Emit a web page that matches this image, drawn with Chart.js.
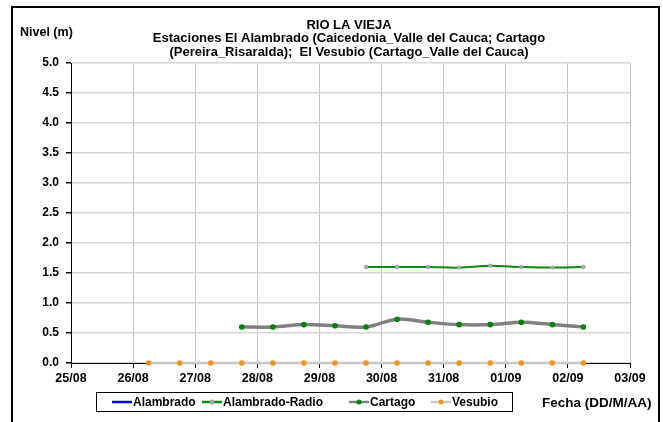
<!DOCTYPE html>
<html>
<head>
<meta charset="utf-8">
<script src="https://cdn.jsdelivr.net/npm/chart.js@4/dist/chart.umd.min.js"></script>
<style>
  html, body { margin: 0; padding: 0; background: #fff; }
  #wrap { width: 663px; height: 422px; }
</style>
</head>
<body>
<div id="wrap"><canvas id="nivelChart" width="663" height="422"></canvas></div>
<script>
// Datos
const dias = ['25/08', '26/08', '27/08', '28/08', '29/08', '30/08', '31/08', '01/09', '02/09', '03/09'];
const fechas = [
    '26/08 06:00', '26/08 18:00', '27/08 06:00', '27/08 18:00', '28/08 06:00',
    '28/08 18:00', '29/08 06:00', '29/08 18:00', '30/08 06:00', '30/08 18:00',
    '31/08 06:00', '31/08 18:00', '01/09 06:00', '01/09 18:00', '02/09 06:00'
];
const alambrado = [];
const alambradoRadio = [null, null, null, null, null, null, null, 1.60, 1.60, 1.60, 1.59, 1.62, 1.60, 1.59, 1.60];
const cartago = [null, null, null, 0.60, 0.60, 0.64, 0.62, 0.60, 0.73, 0.68, 0.64, 0.64, 0.68, 0.64, 0.60];
const vesubio = [0, 0, 0, 0, 0, 0, 0, 0, 0, 0, 0, 0, 0, 0, 0];
const yTicks = ['0.0', '0.5', '1.0', '1.5', '2.0', '2.5', '3.0', '3.5', '4.0', '4.5', '5.0'];

const FONT = 'Liberation Sans, Arial, sans-serif';

// Fecha 'DD/MM HH:MM' -> días desde 25/08
function diaDesdeInicio(f) {
    const [fecha, hora] = f.split(' ');
    const [d, m] = fecha.split('/').map(Number);
    const h = hora ? Number(hora.split(':')[0]) : 0;
    const base = m === 8 ? d - 25 : d + 31 - 25;
    return base + h / 24;
}

function serie(valores) {
    return valores
        .map((v, i) => (v === null ? null : { x: diaDesdeInicio(fechas[i]), y: v }))
        .filter(p => p !== null);
}

const datasets = [
    {
        label: 'Alambrado',
        data: serie(alambrado),
        borderColor: '#0000ff',
        backgroundColor: '#0000ff',
        borderWidth: 2.5,
        pointRadius: 0,
        legendPoint: null
    },
    {
        label: 'Alambrado-Radio',
        data: serie(alambradoRadio),
        borderColor: '#0a8a0a',
        borderWidth: 2,
        pointRadius: 2.2,
        pointBorderWidth: 0,
        pointBackgroundColor: '#a6a6a6',
        tension: 0.35,
        legendPoint: '#a6a6a6'
    },
    {
        label: 'Cartago',
        data: serie(cartago),
        borderColor: '#808080',
        borderWidth: 3.5,
        pointRadius: 2.8,
        pointBorderWidth: 0,
        pointBackgroundColor: '#008000',
        tension: 0.35,
        legendPoint: '#008000'
    },
    {
        label: 'Vesubio',
        data: serie(vesubio),
        borderColor: '#c8c8c8',
        borderWidth: 2.5,
        pointRadius: 2.8,
        pointBorderWidth: 0,
        pointBackgroundColor: '#f7931e',
        tension: 0.35,
        legendPoint: '#f7931e'
    }
];

// Títulos, leyenda y marco dibujados a mano
const decoracion = {
    id: 'decoracion',
    afterDraw(chart) {
        const ctx = chart.ctx;
        ctx.save();
        // marco exterior
        ctx.strokeStyle = '#000';
        ctx.lineWidth = 2;
        ctx.strokeRect(12, 7, 647, 430);

        ctx.fillStyle = '#000';
        ctx.font = 'bold 13px ' + FONT;
        ctx.textAlign = 'center';
        ctx.textBaseline = 'middle';
        ctx.fillText('RIO LA VIEJA', 349, 25);
        ctx.fillText('Estaciones El Alambrado (Caicedonia_Valle del Cauca; Cartago', 349, 38.5);
        ctx.fillText('(Pereira_Risaralda);  El Vesubio (Cartago_Valle del Cauca)', 349, 52);

        ctx.textAlign = 'left';
        ctx.font = 'bold 12.5px ' + FONT;
        ctx.fillText('Nivel (m)', 20, 33);
        ctx.font = 'bold 13.5px ' + FONT;
        ctx.fillText('Fecha (DD/M/AA)', 542, 403);

        // leyenda
        ctx.font = 'bold 12px ' + FONT;
        ctx.lineWidth = 1;
        ctx.strokeRect(96.5, 392.5, 416, 19);
        const posiciones = [112, 202, 349, 431];
        chart.data.datasets.forEach((ds, i) => {
            const x = posiciones[i];
            const y = 402;
            ctx.strokeStyle = ds.borderColor;
            ctx.lineWidth = 2.5;
            ctx.beginPath();
            ctx.moveTo(x, y);
            ctx.lineTo(x + 20, y);
            ctx.stroke();
            if (ds.legendPoint) {
                ctx.fillStyle = ds.legendPoint;
                ctx.beginPath();
                ctx.arc(x + 10, y, 2.5, 0, Math.PI * 2);
                ctx.fill();
            }
            ctx.fillStyle = '#000';
            ctx.textAlign = 'left';
            ctx.fillText(ds.label, x + 21, y + 0.5);
        });
        ctx.restore();
    }
};

new Chart(document.getElementById('nivelChart'), {
    type: 'line',
    data: { datasets },
    options: {
        responsive: false,
        animation: false,
        layout: { padding: { left: 12, right: 33, top: 63, bottom: 34 } },
        plugins: {
            legend: { display: false },
            title: { display: false },
            tooltip: { enabled: false }
        },
        datasets: { line: { clip: false } },
        scales: {
            x: {
                type: 'linear',
                min: 0,
                max: dias.length - 1,
                afterFit: s => { s.height = 25; },
                afterBuildTicks: s => {
                    s.ticks = dias.map((d, i) => ({ value: i }));
                },
                ticks: {
                    color: '#000',
                    font: { family: FONT, size: 12.5, weight: 'bold' },
                    padding: 3,
                    maxRotation: 0,
                    autoSkip: false,
                    callback: v => dias[v]
                },
                grid: { color: '#c4c4c4', lineWidth: 1, tickLength: 5, tickColor: '#000' },
                border: { color: '#000', width: 1 }
            },
            y: {
                min: 0,
                max: 5,
                afterFit: s => { s.width = 59; },
                afterBuildTicks: s => {
                    s.ticks = yTicks.map(t => ({ value: Number(t) }));
                },
                ticks: {
                    color: '#000',
                    font: { family: FONT, size: 12, weight: 'bold' },
                    padding: 7,
                    callback: v => yTicks[Math.round(v * 2)]
                },
                grid: { color: '#d6d6d6', lineWidth: 1.5, tickLength: 5, tickColor: '#000' },
                border: { color: '#000', width: 1 }
            }
        }
    },
    plugins: [decoracion]
});
</script>
</body>
</html>
